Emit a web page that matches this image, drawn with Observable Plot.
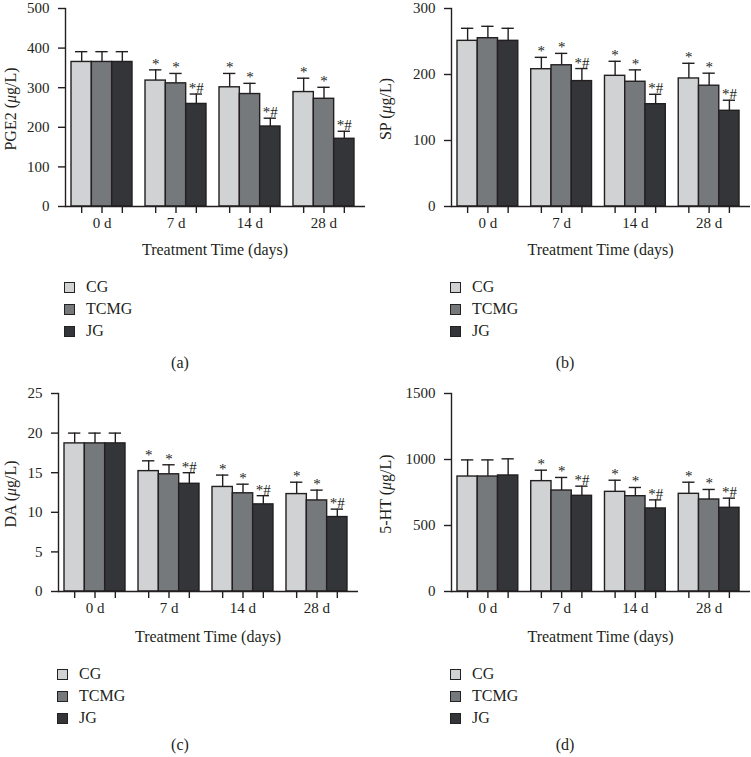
<!DOCTYPE html>
<html><head><meta charset="utf-8">
<script src="https://cdn.jsdelivr.net/npm/d3@7"></script>
<script src="https://cdn.jsdelivr.net/npm/@observablehq/plot@0.6"></script>
<style>
body{margin:0;background:#fff;width:751px;height:757px;position:relative;overflow:hidden;font-family:"Liberation Serif",serif;color:#231f20}
.panel{position:absolute}
.panel svg{overflow:visible}
.lbl{position:absolute;font-size:16px;transform:translate(-50%,-50%);white-space:nowrap;line-height:1}
.leg{position:absolute;font-size:16px;display:flex;align-items:center;transform:translateY(-50%);line-height:1;white-space:nowrap}
.sw{width:9px;height:9px;border:1px solid #222;margin-right:11px}
</style></head><body>
<script>
// ---- data ----
const times = ["0 d", "7 d", "14 d", "28 d"];
const groups = ["CG", "TCMG", "JG"];
const colors = ["#d1d2d4", "#76797c", "#343538"];
const sigLabels = [["", "*", "*", "*"], ["", "*", "*", "*"], ["", "*#", "*#", "*#"]];

const pge2Mean = [[365, 318, 301, 289], [365, 311, 284, 272], [365, 259, 202, 171]];
const pge2SD   = [[26, 27, 35, 35], [26, 25, 27, 29], [26, 25, 21, 19]];
const pge2Ticks = [0, 100, 200, 300, 400, 500];

const spMean = [[251, 208, 198, 194], [255, 214, 189, 183], [251, 190, 155, 145]];
const spSD   = [[19, 18, 22, 23], [18, 18, 18, 19], [19, 19, 15, 16]];
const spTicks = [0, 100, 200, 300];

const daMean = [[18.7, 15.2, 13.2, 12.3], [18.7, 14.8, 12.4, 11.5], [18.7, 13.6, 11.0, 9.4]];
const daSD   = [[1.3, 1.3, 1.5, 1.5], [1.3, 1.2, 1.15, 1.3], [1.3, 1.4, 1.1, 1.0]];
const daTicks = [0, 5, 10, 15, 20, 25];

const htMean = [[871, 836, 755, 740], [871, 765, 722, 697], [879, 725, 629, 634]];
const htSD   = [[126, 83, 88, 88], [126, 99, 66, 76], [126, 73, 65, 73]];
const htTicks = [0, 500, 1000, 1500];

const panelLabels = ["PGE2", "SP", "DA", "5-HT"];
const captions = ["(a)", "(b)", "(c)", "(d)"];
const xTitle = "Treatment Time (days)";

// ---- layout ----
const ink = "#231f20";
const panels = [
  {label: panelLabels[0], cap: captions[0], mean: pge2Mean, sd: pge2SD, ticks: pge2Ticks, left: 0,   top: 0,   shift: 2, ml: 65, mr: 10, legX: 64, capX: 180},
  {label: panelLabels[1], cap: captions[1], mean: spMean,   sd: spSD,   ticks: spTicks,   left: 375, top: 0,   shift: 2, ml: 76, mr: 0,  legX: 75, capX: 190},
  {label: panelLabels[2], cap: captions[2], mean: daMean,   sd: daSD,   ticks: daTicks,   left: 0,   top: 387, shift: 0, ml: 58, mr: 17, legX: 57, capX: 180},
  {label: panelLabels[3], cap: captions[3], mean: htMean,   sd: htSD,   ticks: htTicks,   left: 375, top: 387, shift: 0, ml: 76, mr: 0,  legX: 75, capX: 190}
];

const W = 375, H = 235, MT = 6, MB = 31;
const PI = 13 / 74, PO = 0.115, AL = 0.353;

function addDiv(cls, x, y, html) {
  const d = document.createElement("div");
  d.className = cls;
  d.style.left = x + "px";
  d.style.top = y + "px";
  d.innerHTML = html;
  document.body.appendChild(d);
  return d;
}

panels.forEach(p => {
  const rows = [];
  groups.forEach((g, gi) => times.forEach((t, ti) => {
    rows.push({time: t, group: g, mean: p.mean[gi][ti], hi: p.mean[gi][ti] + p.sd[gi][ti], sig: sigLabels[gi][ti]});
  }));
  const band = d3.scaleBand().domain(times).range([p.ml, W - p.mr]).paddingInner(PI).paddingOuter(PO).align(AL);
  const bw = band.bandwidth() / 3;
  const marks = [];
  groups.forEach((g, gi) => {
    const d = rows.filter(r => r.group === g);
    const off = (gi - 1) * bw;
    marks.push(Plot.ruleX(d, {x: "time", y1: "mean", y2: "hi", dx: off, stroke: ink, strokeWidth: 1.4}));
    marks.push(Plot.tickY(d, {x: "time", y: "hi", insetLeft: gi * bw + 4, insetRight: (2 - gi) * bw + 4, stroke: ink, strokeWidth: 1.4}));
    marks.push(Plot.barY(d, {x: "time", y: "mean", fill: colors[gi], stroke: ink, strokeWidth: 1.4, insetLeft: gi * bw, insetRight: (2 - gi) * bw}));
    marks.push(Plot.text(d, {x: "time", y: "hi", text: "sig", dx: off, dy: -1, lineAnchor: "bottom", fontSize: 15, fill: ink}));
    marks.push(Plot.axisX({tickSize: 7, tickFormat: () => "", dx: off, stroke: ink, strokeWidth: 1.4}));
  });
  marks.push(Plot.axisX({tickSize: 0, tickPadding: 11, fontSize: 15, fill: ink}));
  marks.push(Plot.axisY({ticks: p.ticks, tickFormat: d => String(d), tickSize: 7, tickPadding: 9, fontSize: 15, fill: ink, stroke: ink, strokeWidth: 1.4, label: null}));
  marks.push(Plot.ruleY([0], {stroke: ink, strokeWidth: 1.4}));
  marks.push(Plot.frame({anchor: "left", stroke: ink, strokeWidth: 1.4}));

  const chart = Plot.plot({
    width: W, height: H,
    marginLeft: p.ml, marginRight: p.mr, marginTop: MT, marginBottom: MB,
    style: {fontFamily: "Liberation Serif, serif", fontSize: "15px", color: ink, background: "transparent", overflow: "visible"},
    x: {domain: times, paddingInner: PI, paddingOuter: PO, align: AL, round: false, label: null},
    y: {domain: [0, p.ticks[p.ticks.length - 1]], label: null},
    marks
  });
  const svg = d3.select(chart);
  const t = svg.append("text")
    .attr("transform", `translate(16,${(MT + H - MB) / 2 + 2}) rotate(-90)`)
    .attr("text-anchor", "middle").attr("font-size", 16).attr("fill", ink);
  t.append("tspan").text(p.label + " (");
  t.append("tspan").attr("font-style", "italic").text("μ");
  t.append("tspan").text("g/L)");

  const holder = document.createElement("div");
  holder.className = "panel";
  holder.style.left = p.left + "px";
  holder.style.top = (p.top + p.shift) + "px";
  holder.appendChild(chart);
  document.body.appendChild(holder);

  addDiv("lbl", p.left + (p.ml + W - p.mr) / 2, p.top + 250, xTitle);
  groups.forEach((g, gi) => {
    addDiv("leg", p.left + p.legX, p.top + 287 + gi * 22, `<span class="sw" style="background:${colors[gi]}"></span>${g}`);
  });
  addDiv("lbl", p.left + p.capX, p.top + (p.top ? 358 : 363), p.cap);
});
</script>
</body></html>
